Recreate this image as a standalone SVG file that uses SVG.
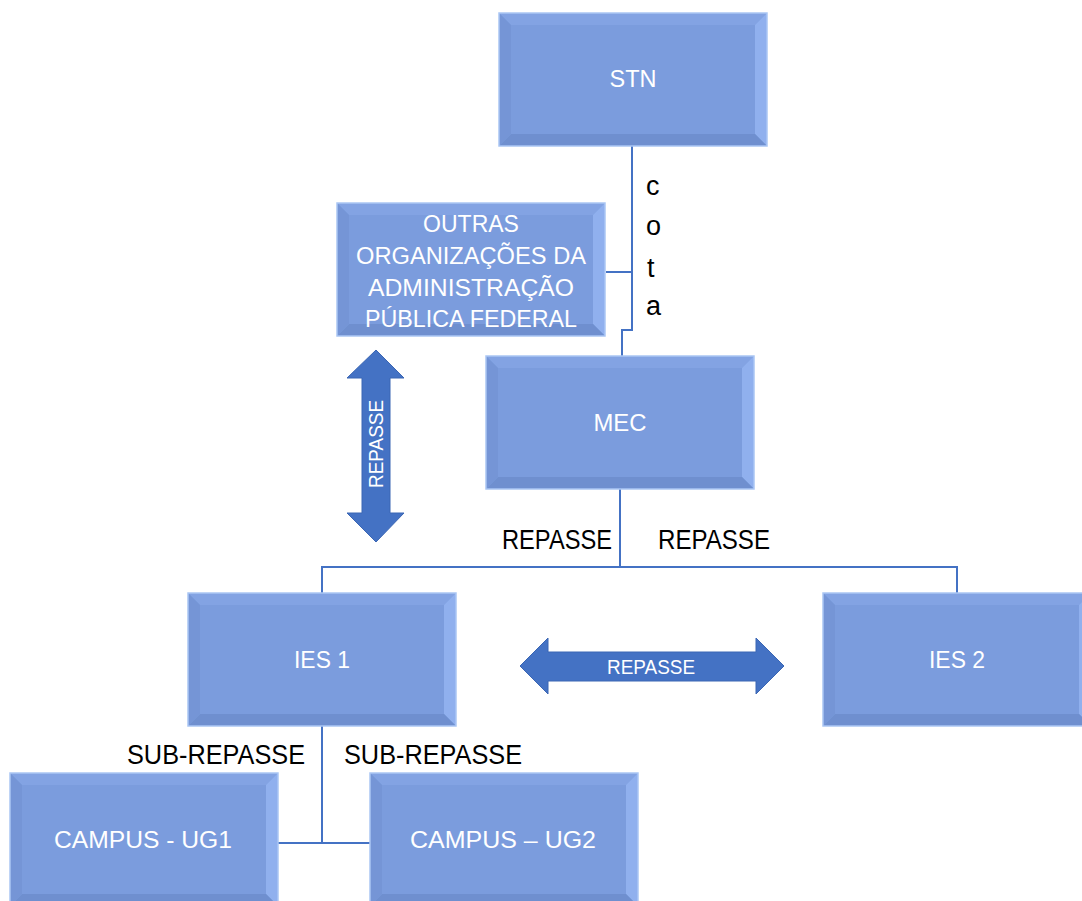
<svg xmlns="http://www.w3.org/2000/svg" xmlns:xlink="http://www.w3.org/1999/xlink" width="1082" height="901" viewBox="0 0 1082 901">
<style>
.lbl{font-family:"Liberation Sans",Arial,sans-serif;fill:#ffffff;font-size:23px;text-anchor:middle}
.blk{font-family:"Liberation Sans",Arial,sans-serif;fill:#000000;font-size:27px}
.conn{fill:none;stroke:#4472C4;stroke-width:2}
.arrow{fill:#4472C4;stroke:#3A66B4;stroke-width:1}
.alb{font-family:"Liberation Sans",Arial,sans-serif;fill:#ffffff;font-size:20px;text-anchor:middle}
</style>
<defs>
<symbol id="bevel" overflow="visible">
<rect x="0" y="0" width="268" height="133" fill="#7B9CDD"/>
<polygon points="0,0 268,0 256,12 12,12" fill="#83A3E3"/>
<polygon points="268,0 268,133 256,121 256,12" fill="#90B0EE"/>
<polygon points="0,133 268,133 256,121 12,121" fill="#6F8FCF"/>
<polygon points="0,0 12,12 12,121 0,133" fill="#7595D6"/>
<rect x="0" y="0" width="268" height="133" fill="none" stroke="#AAC6F4" stroke-width="1.5"/>
</symbol>
</defs>
<rect width="1082" height="901" fill="#ffffff"/>
<g id="connectors">
<polyline class="conn" points="632,146 632,330 622,330 622,356"/>
<line class="conn" x1="632" y1="272" x2="606" y2="272"/>
<line class="conn" x1="620" y1="489" x2="620" y2="567"/>
<polyline class="conn" points="322,593 322,567 957,567 957,593"/>
<line class="conn" x1="322" y1="725" x2="322" y2="843"/>
<line class="conn" x1="277" y1="843" x2="370" y2="843"/>
<g id="arrow-v">
<polygon class="arrow" points="376,350 404,378 390,378 390,513 404,513 376,542 347,513 362,513 362,378 347,378"/>
<text class="alb" transform="translate(383,444) rotate(-90)" textLength="88" lengthAdjust="spacingAndGlyphs">REPASSE</text>
</g>
<g id="arrow-h">
<polygon class="arrow" points="520,666 548,638 548,652 756,652 756,638 784,666 756,694 756,681 548,681 548,694"/>
<text class="alb" x="651" y="674" textLength="88" lengthAdjust="spacingAndGlyphs">REPASSE</text>
</g>
<g id="labels">
<text class="blk" x="646" y="195" font-size="24">c</text>
<text class="blk" x="646" y="235" font-size="24">o</text>
<text class="blk" x="647" y="277" font-size="24">t</text>
<text class="blk" x="646" y="315" font-size="24">a</text>
<text class="blk" x="502" y="549" textLength="110" lengthAdjust="spacingAndGlyphs">REPASSE</text>
<text class="blk" x="658" y="549" textLength="112" lengthAdjust="spacingAndGlyphs">REPASSE</text>
<text class="blk" x="127" y="764" textLength="178" lengthAdjust="spacingAndGlyphs">SUB-REPASSE</text>
<text class="blk" x="344" y="764" textLength="178" lengthAdjust="spacingAndGlyphs">SUB-REPASSE</text>
</g>
</g>
<g id="stn">
<use xlink:href="#bevel" x="499" y="13"/>
<text class="lbl" x="633" y="87" textLength="47" lengthAdjust="spacingAndGlyphs">STN</text>
</g>
<g id="outras">
<use xlink:href="#bevel" x="337" y="203"/>
<text class="lbl" x="471" y="232">OUTRAS</text>
<text class="lbl" x="471" y="264" textLength="230" lengthAdjust="spacingAndGlyphs">ORGANIZAÇÕES DA</text>
<text class="lbl" x="471" y="296" textLength="206" lengthAdjust="spacingAndGlyphs">ADMINISTRAÇÃO</text>
<text class="lbl" x="471" y="327" textLength="212" lengthAdjust="spacingAndGlyphs">PÚBLICA FEDERAL</text>
</g>
<g id="mec">
<use xlink:href="#bevel" x="486" y="356"/>
<text class="lbl" x="620" y="431" textLength="53" lengthAdjust="spacingAndGlyphs">MEC</text>
</g>
<g id="ies1">
<use xlink:href="#bevel" x="188" y="593"/>
<text class="lbl" x="322" y="668" textLength="56" lengthAdjust="spacingAndGlyphs">IES 1</text>
</g>
<g id="ies2">
<use xlink:href="#bevel" x="823" y="593"/>
<text class="lbl" x="957" y="668" textLength="56" lengthAdjust="spacingAndGlyphs">IES 2</text>
</g>
<g id="campus1">
<use xlink:href="#bevel" x="10" y="773"/>
<text class="lbl" x="143" y="848" textLength="178" lengthAdjust="spacingAndGlyphs">CAMPUS - UG1</text>
</g>
<g id="campus2">
<use xlink:href="#bevel" x="370" y="773"/>
<text class="lbl" x="503" y="848" textLength="186" lengthAdjust="spacingAndGlyphs">CAMPUS – UG2</text>
</g>
</svg>
